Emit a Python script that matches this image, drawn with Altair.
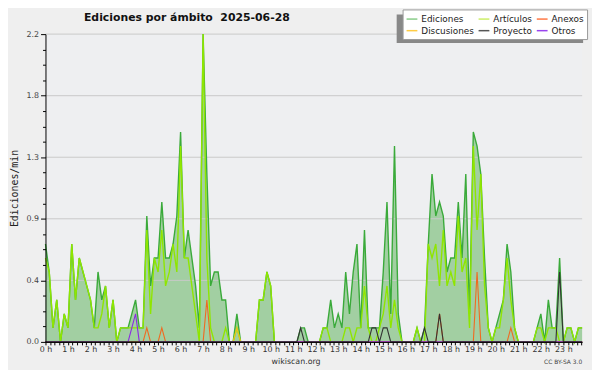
import json
import altair as alt
import pandas as pd

# ---------------- data (10-minute bins, edits per minute) ----------------
series_names = ["Ediciones", "Artículos", "Anexos", "Discusiones", "Proyecto", "Otros"]

ediciones = [
    0.7, 0.5, 0.1, 0.3, 0.0, 0.2,
    0.1, 0.7, 0.3, 0.6, 0.5, 0.4,
    0.3, 0.1, 0.5, 0.3, 0.4, 0.1,
    0.3, 0.0, 0.1, 0.1, 0.1, 0.2,
    0.3, 0.1, 0.1, 0.9, 0.4, 0.6,
    0.6, 1.0, 0.6, 0.6, 0.7, 0.9,
    1.5, 0.6, 0.8, 0.6, 0.4, 0.1,
    2.2, 1.2, 0.4, 0.5, 0.5, 0.3,
    0.3, 0.0, 0.0, 0.2, 0.0, 0.0,
    0.0, 0.0, 0.0, 0.3, 0.3, 0.5,
    0.4, 0.0, 0.0, 0.0, 0.0, 0.0,
    0.0, 0.0, 0.1, 0.1, 0.0, 0.0,
    0.0, 0.0, 0.1, 0.1, 0.3, 0.1,
    0.2, 0.1, 0.5, 0.2, 0.5, 0.7,
    0.1, 0.8, 0.1, 0.1, 0.1, 0.1,
    0.5, 1.0, 0.2, 1.4, 0.2, 0.0,
    0.0, 0.0, 0.0, 0.1, 0.0, 0.1,
    0.7, 1.2, 0.9, 1.0, 0.9, 0.5,
    0.6, 0.6, 1.0, 0.6, 1.2, 0.2,
    1.5, 1.4, 1.2, 0.6, 0.1, 0.0,
    0.1, 0.2, 0.3, 0.7, 0.5, 0.1,
    0.0, 0.0, 0.0, 0.0, 0.0, 0.1,
    0.2, 0.0, 0.3, 0.1, 0.1, 0.6,
    0.0, 0.1, 0.1, 0.0, 0.1, 0.1,
]

articulos = [
    0.6, 0.5, 0.1, 0.3, 0.0, 0.2,
    0.1, 0.7, 0.3, 0.6, 0.5, 0.4,
    0.3, 0.1, 0.1, 0.2, 0.4, 0.1,
    0.3, 0.0, 0.1, 0.1, 0.1, 0.1,
    0.1, 0.1, 0.1, 0.8, 0.2, 0.6,
    0.5, 0.8, 0.4, 0.5, 0.7, 0.5,
    1.4, 0.6, 0.6, 0.4, 0.2, 0.0,
    2.2, 0.6, 0.1, 0.0, 0.0, 0.0,
    0.1, 0.0, 0.0, 0.1, 0.0, 0.0,
    0.0, 0.0, 0.0, 0.3, 0.3, 0.5,
    0.4, 0.0, 0.0, 0.0, 0.0, 0.0,
    0.0, 0.0, 0.0, 0.0, 0.0, 0.0,
    0.0, 0.0, 0.1, 0.1, 0.0, 0.0,
    0.0, 0.0, 0.1, 0.1, 0.0, 0.1,
    0.1, 0.4, 0.1, 0.0, 0.0, 0.1,
    0.2, 0.4, 0.1, 0.3, 0.1, 0.0,
    0.0, 0.0, 0.0, 0.1, 0.0, 0.0,
    0.7, 0.6, 0.7, 0.4, 0.8, 0.4,
    0.5, 0.4, 0.9, 0.5, 0.6, 0.1,
    1.4, 0.8, 1.2, 0.4, 0.1, 0.0,
    0.1, 0.1, 0.3, 0.6, 0.3, 0.1,
    0.0, 0.0, 0.0, 0.0, 0.0, 0.1,
    0.1, 0.0, 0.1, 0.1, 0.1, 0.0,
    0.0, 0.1, 0.1, 0.0, 0.1, 0.1,
]

anexos = [
    0, 0, 0, 0, 0, 0,
    0, 0, 0, 0, 0, 0,
    0, 0, 0, 0, 0, 0,
    0, 0, 0, 0, 0, 0,
    0, 0, 0, 0.1, 0, 0,
    0, 0.1, 0, 0, 0, 0,
    0, 0, 0, 0, 0, 0,
    0, 0.3, 0, 0, 0, 0,
    0, 0, 0, 0, 0, 0,
    0, 0, 0, 0, 0, 0,
    0, 0, 0, 0, 0, 0,
    0, 0, 0, 0, 0, 0,
    0, 0, 0, 0, 0, 0,
    0, 0, 0, 0, 0, 0,
    0, 0, 0, 0, 0, 0,
    0, 0, 0, 0, 0, 0,
    0, 0, 0, 0, 0, 0,
    0, 0, 0, 0.2, 0, 0,
    0, 0, 0, 0, 0, 0,
    0, 0.5, 0, 0, 0, 0,
    0, 0, 0, 0, 0.1, 0,
    0, 0, 0, 0, 0, 0,
    0, 0, 0, 0, 0, 0,
    0, 0, 0, 0, 0, 0,
]

discusiones = [
    0, 0, 0, 0, 0, 0,
    0, 0, 0, 0, 0, 0,
    0, 0, 0, 0, 0, 0,
    0, 0, 0, 0, 0, 0,
    0, 0, 0, 0, 0, 0,
    0, 0, 0, 0, 0, 0,
    0, 0, 0, 0, 0, 0,
    0, 0, 0, 0, 0, 0,
    0, 0, 0, 0.1, 0, 0,
    0, 0, 0, 0, 0, 0,
    0, 0, 0, 0, 0, 0,
    0, 0, 0, 0, 0, 0,
    0, 0, 0, 0, 0, 0,
    0, 0, 0, 0, 0, 0,
    0, 0, 0, 0, 0, 0,
    0, 0, 0, 0, 0, 0,
    0, 0, 0, 0, 0, 0,
    0, 0, 0, 0, 0, 0,
    0, 0, 0, 0, 0, 0,
    0, 0, 0, 0, 0, 0,
    0, 0, 0, 0, 0, 0,
    0, 0, 0, 0, 0, 0,
    0, 0, 0, 0, 0, 0,
    0, 0, 0, 0, 0, 0,
]

proyecto = [
    0, 0, 0, 0, 0, 0,
    0, 0, 0, 0, 0, 0,
    0, 0, 0, 0, 0, 0,
    0, 0, 0, 0, 0, 0,
    0, 0, 0, 0, 0, 0,
    0, 0, 0, 0, 0, 0,
    0, 0, 0, 0, 0, 0,
    0, 0, 0, 0, 0, 0,
    0, 0, 0, 0, 0, 0,
    0, 0, 0, 0, 0, 0,
    0, 0, 0, 0, 0, 0,
    0, 0, 0.1, 0, 0, 0,
    0, 0, 0, 0, 0, 0,
    0, 0, 0, 0, 0, 0,
    0, 0, 0, 0.1, 0.1, 0,
    0.1, 0.1, 0, 0, 0, 0,
    0, 0, 0, 0, 0, 0.1,
    0, 0, 0, 0.2, 0, 0,
    0, 0, 0, 0, 0, 0,
    0, 0, 0, 0, 0, 0,
    0, 0, 0, 0, 0, 0,
    0, 0, 0, 0, 0, 0,
    0, 0, 0, 0, 0, 0.5,
    0, 0, 0, 0, 0, 0,
]

otros = [
    0, 0, 0, 0, 0, 0,
    0, 0, 0, 0, 0, 0,
    0, 0, 0, 0, 0, 0,
    0, 0, 0, 0, 0, 0.1,
    0.2, 0, 0, 0, 0, 0,
    0, 0, 0, 0, 0, 0,
    0, 0, 0, 0, 0, 0,
    0, 0, 0, 0, 0, 0,
    0, 0, 0, 0, 0, 0,
    0, 0, 0, 0, 0, 0,
    0, 0, 0, 0, 0, 0,
    0, 0, 0, 0, 0, 0,
    0, 0, 0, 0, 0, 0,
    0, 0, 0, 0, 0, 0,
    0, 0, 0, 0, 0, 0,
    0, 0, 0, 0, 0, 0,
    0, 0, 0, 0, 0, 0,
    0, 0, 0, 0, 0, 0,
    0, 0, 0, 0, 0, 0,
    0, 0, 0, 0, 0, 0,
    0, 0, 0, 0, 0, 0,
    0, 0, 0, 0, 0, 0,
    0, 0, 0, 0, 0, 0,
    0, 0, 0, 0, 0, 0,
]

hour_labels = ["0 h", "1 h", "2 h", "3 h", "4 h", "5 h", "6 h", "7 h", "8 h", "9 h",
               "10 h", "11 h", "12 h", "13 h", "14 h", "15 h", "16 h", "17 h", "18 h",
               "19 h", "20 h", "21 h", "22 h", "23 h"]
y_major = [0.0, 0.44, 0.88, 1.32, 1.76, 2.2]
y_ticks = [0.0, 0.11, 0.22, 0.33, 0.44, 0.55, 0.66, 0.77, 0.88, 0.99, 1.1, 1.21,
           1.32, 1.43, 1.54, 1.65, 1.76, 1.87, 1.98, 2.09, 2.2]
x_ticks = [round(k * 1.2, 4) for k in range(120)]

line_colors = {
    "Ediciones": "#3aaa3a",
    "Artículos": "#8fe600",
    "Anexos": "#f06a20",
    "Discusiones": "#f0c020",
    "Proyecto": "#333333",
    "Otros": "#8a2be2",
}
legend_colors = ["#88cc88", "#ccee66", "#ff7744", "#ffcc44", "#555555", "#9944ee"]

values = {
    "Ediciones": ediciones, "Artículos": articulos, "Anexos": anexos,
    "Discusiones": discusiones, "Proyecto": proyecto, "Otros": otros,
}
rows = []
for name in series_names:
    for i, v in enumerate(values[name]):
        rows.append({"idx": i, "serie": name, "value": v})
df = pd.DataFrame(rows)

FONT = "DejaVu Sans"

x_label_expr = ("abs(datum.value/6 - round(datum.value/6)) < 0.001 ? "
                + json.dumps(hour_labels) + "[round(datum.value/6)] : ''")
x_axis = alt.Axis(values=x_ticks, labelExpr=x_label_expr, title=None, grid=False,
                  tickSize=3, tickColor="black", domainColor="black", labelFont=FONT,
                  labelFontSize=8, labelColor="#333", labelPadding=1, labelOverlap=False,
                  labelFlush=False, zindex=1)
major_test = "abs(datum.value/0.44 - round(datum.value/0.44)) < 0.01"
y_axis = alt.Axis(values=y_ticks,
                  labelExpr=major_test + " ? format(datum.value, '.1f') : ''",
                  title="Ediciones/min", titleFont="DejaVu Sans Mono", titleFontSize=10,
                  titleFontWeight="normal", titleColor="#222", titleX=-31, titleY=156,
                  titleAngle=270, titleBaseline="middle", titleAlign="center",
                  grid=False, tickColor="black", domainColor="black",
                  tickSize={"condition": {"test": major_test, "value": 5}, "value": 3},
                  labelFont=FONT, labelFontSize=8, labelColor="#444", labelPadding=2,
                  labelOverlap=False, labelFlush=False, zindex=1)

x_scale = alt.Scale(domain=[0, 143], nice=False, zero=False)
y_scale = alt.Scale(domain=[0, 2.2], nice=False)


def xenc():
    return alt.X("idx:Q", scale=x_scale, axis=x_axis)


def yenc(field="value:Q"):
    return alt.Y(field, scale=y_scale, axis=y_axis)


ed_df = df[df.serie == "Ediciones"]

area = alt.Chart(ed_df).mark_area(color="#a2cfa2", opacity=1).encode(x=xenc(), y=yenc())

grid = alt.Chart(pd.DataFrame({"value": y_major[1:]})).mark_rule(
    color="#c9c9c9", strokeWidth=1).encode(y=yenc())

layers = [area, grid]
for name in ["Ediciones", "Artículos", "Discusiones", "Anexos", "Otros", "Proyecto"]:
    layers.append(
        alt.Chart(df[df.serie == name]).mark_line(
            color=line_colors[name], strokeWidth=1.4 if name in ("Ediciones", "Artículos") else 1.1,
            interpolate="linear").encode(x=xenc(), y=yenc())
    )

# legend shadow (drawn under the legend box)
shadow = alt.Chart(pd.DataFrame({"a": [0]})).mark_rect(color="#888888").encode(
    x=alt.value(356), x2=alt.value(545), y=alt.value(-20), y2=alt.value(9))
layers.append(shadow)

legend_layer = alt.Chart(df).mark_line(opacity=0).encode(
    x=xenc(), y=yenc(),
    color=alt.Color("serie:N", sort=series_names,
                    scale=alt.Scale(domain=series_names, range=legend_colors),
                    legend=alt.Legend(orient="none", legendX=362, legendY=-25, columns=3,
                                      direction="horizontal", title=None, symbolType="stroke",
                                      symbolStrokeWidth=1.5, symbolSize=120, symbolOpacity=1,
                                      labelFont=FONT, labelFontSize=9, labelColor="#222",
                                      fillColor="white", strokeColor="#999999", padding=3,
                                      columnPadding=1, rowPadding=-2, labelOffset=3,
                                      symbolOffset=0)),
    detail="serie:N",
)
layers.append(legend_layer)

title = alt.Chart(pd.DataFrame({"t": ["Ediciones por ámbito\u00a0 2025-06-28"]})).mark_text(
    align="left", baseline="alphabetic", font=FONT, fontSize=11, fontWeight="bold",
    color="#111").encode(x=alt.value(39), y=alt.value(-13), text="t:N")
footer = alt.Chart(pd.DataFrame({"t": ["wikiscan.org"]})).mark_text(
    align="center", baseline="alphabetic", font=FONT, fontSize=8, color="#333").encode(
    x=alt.value(254), y=alt.value(334), text="t:N")
license_txt = alt.Chart(pd.DataFrame({"t": ["CC BY-SA 3.0"]})).mark_text(
    align="right", baseline="alphabetic", font=FONT, fontSize=6, color="#444").encode(
    x=alt.value(544), y=alt.value(334), text="t:N")
layers += [title, footer, license_txt]

chart = alt.layer(*layers).properties(
    width=544, height=312,
    autosize=alt.AutoSizeParams(type="none"),
    padding={"left": 38, "top": 24, "right": 10, "bottom": 26},
    background="#efefef",
).configure_view(stroke=None, fill="#eeeff1")

chart.save("out.html", embed_options={"renderer": "svg", "actions": False})
